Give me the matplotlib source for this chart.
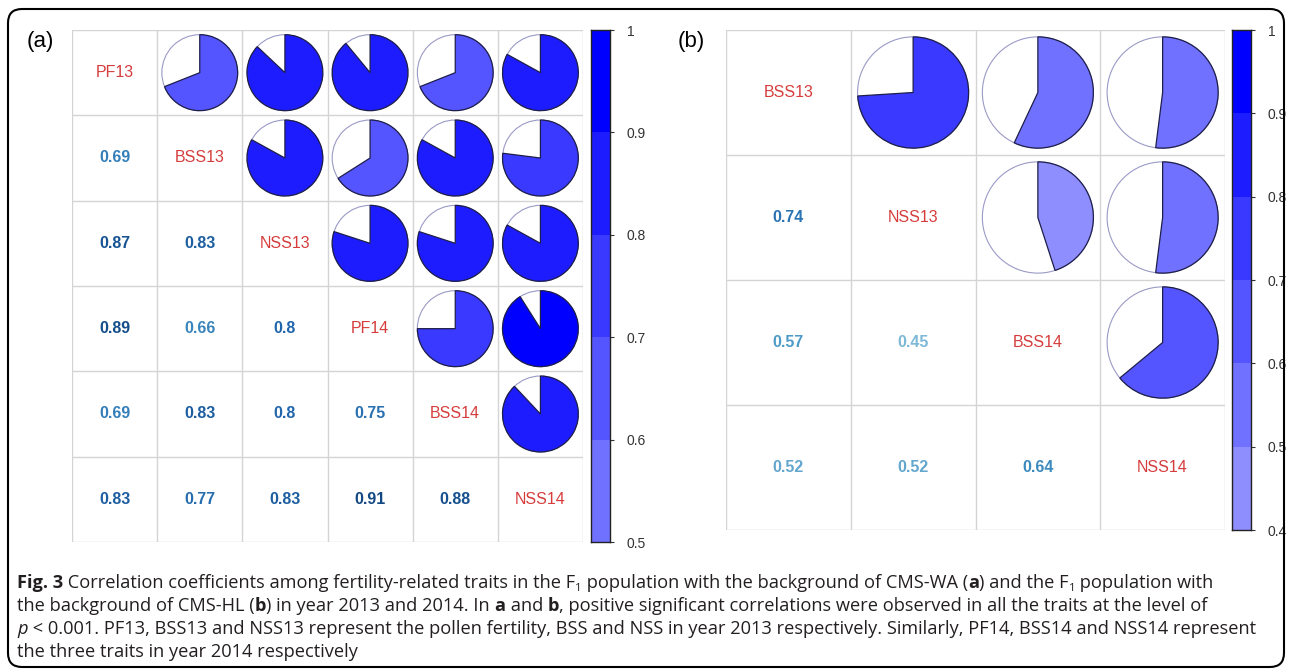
import numpy as np
import matplotlib
matplotlib.use("Agg")
import matplotlib.pyplot as plt
from matplotlib.patches import Wedge, Circle, FancyBboxPatch
from matplotlib.transforms import IdentityTransform

plt.rcParams['font.family'] = ['Liberation Sans', 'DejaVu Sans']

W, H = 1292, 672

# panel (a): CMS-WA background
names_a = ["PF13", "BSS13", "NSS13", "PF14", "BSS14", "NSS14"]
lower_a = [
    [0.69],
    [0.87, 0.83],
    [0.89, 0.66, 0.80],
    [0.69, 0.83, 0.80, 0.75],
    [0.83, 0.77, 0.83, 0.91, 0.88],
]
ticks_a = [0.5, 0.6, 0.7, 0.8, 0.9, 1.0]

# panel (b): CMS-HL background
names_b = ["BSS13", "NSS13", "BSS14", "NSS14"]
lower_b = [
    [0.74],
    [0.57, 0.45],
    [0.52, 0.52, 0.64],
]
ticks_b = [0.4, 0.5, 0.6, 0.7, 0.8, 0.9, 1.0]

GRID = "#d4d4d4"
LABEL_RED = "#d63c3c"
# corrplot default diverging palette, -1 .. 1
RDBU = ["#67001F", "#B2182B", "#D6604D", "#F4A582", "#FDDBC7", "#FFFFFF",
        "#D1E5F0", "#92C5DE", "#4393C3", "#2166AC", "#053061"]


def num_color(v):
    pos = (v + 1) / 2 * (len(RDBU) - 1)
    k = min(int(pos), len(RDBU) - 2)
    f = pos - k
    c0 = np.array(matplotlib.colors.to_rgb(RDBU[k]))
    c1 = np.array(matplotlib.colors.to_rgb(RDBU[k + 1]))
    return tuple(c0 + (c1 - c0) * f)


def band_color(v):
    # white -> blue in ten steps over 0..1
    idx = min(int(round(v * 10, 6)), 9)
    w = (9 - idx) / 9
    return (w, w, 1.0)


def px_axes(fig, x0, y0, x1, y1):
    return fig.add_axes([x0 / W, 1 - y1 / H, (x1 - x0) / W, (y1 - y0) / H])


def full_matrix(names, lower):
    n = len(names)
    m = np.eye(n)
    for i, row in enumerate(lower, start=1):
        for j, v in enumerate(row):
            m[i, j] = m[j, i] = v
    return m


def draw_panel(fig, box, names, lower):
    n = len(names)
    m = full_matrix(names, lower)
    ax = px_axes(fig, *box)
    ax.set_xlim(0, n)
    ax.set_ylim(0, n)
    ax.axis("off")
    for k in range(n + 1):
        ax.plot([k, k], [0, n], color=GRID, lw=1.0, zorder=1)
        ax.plot([0, n], [k, k], color=GRID, lw=1.0, zorder=1)
    for i in range(n):
        for j in range(n):
            cx, cy = j + 0.5, n - i - 0.5
            v = m[i, j]
            if i == j:
                ax.text(cx, cy, names[i], ha="center", va="center",
                        fontsize=11.5, color=LABEL_RED)
            elif i > j:
                ax.text(cx, cy, f"{v:g}", ha="center", va="center",
                        fontsize=11.5, fontweight="bold", color=num_color(v))
            else:
                r = 0.445
                ax.add_patch(Circle((cx, cy), r, facecolor="white",
                                    edgecolor="#9a9ac6", lw=0.8, zorder=2))
                ax.add_patch(Wedge((cx, cy), r, 90 - 360 * v, 90,
                                   facecolor=band_color(v), edgecolor="#1e1e4a",
                                   lw=0.9, zorder=3))
    return ax


def draw_cbar(fig, box, ticks):
    ax = px_axes(fig, *box)
    for lo, hi in zip(ticks[:-1], ticks[1:]):
        ax.bar(0.5, hi - lo, bottom=lo, width=1.0, color=band_color(lo),
               edgecolor="none")
    ax.set_xlim(0, 1)
    ax.set_ylim(ticks[0], ticks[-1])
    ax.set_xticks([])
    ax.yaxis.tick_right()
    ax.set_yticks(ticks)
    ax.set_yticklabels([f"{t:g}" for t in ticks])
    ax.tick_params(axis="y", length=3, width=0.8, pad=9, labelsize=10,
                   color="#333333", labelcolor="#333333")
    for s in ax.spines.values():
        s.set_linewidth(1.0)
        s.set_color("#222222")
    return ax


fig = plt.figure(figsize=(W / 100, H / 100), dpi=100)

draw_panel(fig, (72, 30, 583, 542), names_a, lower_a)
draw_cbar(fig, (591, 30, 610, 542), ticks_a)
draw_panel(fig, (726, 30, 1225, 530), names_b, lower_b)
draw_cbar(fig, (1232, 30, 1251, 530), ticks_b)

fig.text(27 / W, 1 - 41 / H, "(a)", fontsize=16, ha="left", va="center")
fig.text(678 / W, 1 - 41 / H, "(b)", fontsize=16, ha="left", va="center")

# rounded frame round the whole figure
fig.add_artist(FancyBboxPatch((8, H - 667), 1276, 658,
                              boxstyle="round,pad=0,rounding_size=14",
                              transform=IdentityTransform(), facecolor="none",
                              edgecolor="black", lw=1.5))

# caption, drawn as runs of plain / bold / italic / subscript text
CAP = "#231f20"
cap_lines = [
    [("Fig. 3", "b"), (" Correlation coefficients among fertility-related traits in the F", ""),
     ("1", "s"), (" population with the background of CMS-WA (", ""), ("a", "b"),
     (") and the F", ""), ("1", "s"), (" population with", "")],
    [("the background of CMS-HL (", ""), ("b", "b"), (") in year 2013 and 2014. In ", ""),
     ("a", "b"), (" and ", ""), ("b", "b"),
     (", positive significant correlations were observed in all the traits at the level of", "")],
    [("p", "i"), (" < 0.001. PF13, BSS13 and NSS13 represent the pollen fertility, BSS and NSS "
                  "in year 2013 respectively. Similarly, PF14, BSS14 and NSS14 represent", "")],
    [("the three traits in year 2014 respectively", "")],
]
cap_base = [588, 611, 634, 657]
cap_right = [1250, 1236, 1252]
renderer = fig.canvas.get_renderer()


def run_props(kind, fs):
    p = dict(fontsize=fs, family=["Open Sans", "DejaVu Sans"], color=CAP)
    if kind == "b":
        p["fontweight"] = "bold"
    if kind == "i":
        p["fontstyle"] = "italic"
    if kind == "s":
        p["fontsize"] = fs * 0.62
    return p


def text_width(s, props):
    t = fig.text(0, 0, "|" + s + "|", **props)
    w1 = t.get_window_extent(renderer).width
    t.set_text("||")
    w0 = t.get_window_extent(renderer).width
    t.remove()
    return w1 - w0


def line_width(runs, fs):
    return sum(text_width(s, run_props(k, fs)) for s, k in runs)


X0 = 17
fs = 12.0
fs = min(fs * (right - X0) / line_width(runs, fs)
         for runs, right in zip(cap_lines, cap_right))

for runs, base in zip(cap_lines, cap_base):
    x = X0
    for s, k in runs:
        props = run_props(k, fs)
        y = base + (3 if k == "s" else 0)
        fig.text(x / W, 1 - y / H, s, ha="left", va="baseline", **props)
        x += text_width(s, props)

fig.savefig("out.png", dpi=100)
